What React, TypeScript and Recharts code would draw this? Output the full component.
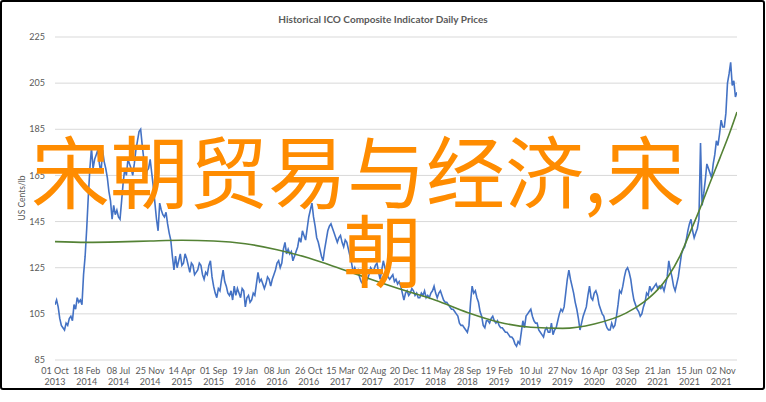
import React from 'react';
import { LineChart, Line, XAxis, YAxis, CartesianGrid } from 'recharts';

// Samples of the ICO composite indicator (US cents/lb).
// x = trading-day observation number; one sample every 5 observations (one week).
const SAMPLE_STEP_OBS = 5;
const weeklyPrices = [
  109, 111, 108, 103, 100, 99,
  98, 101, 100, 103, 104, 102, 109, 107, 112, 110, 111, 109, 122, 130, 142, 156, 168, 177, 168, 172, 174,
  176, 170, 166, 176, 171, 168, 164, 158, 154, 146, 152, 148, 150, 147, 146, 154, 162, 168, 165, 172, 170,
  168, 165, 170, 176, 180, 184, 185, 178, 172, 162, 167, 168, 172, 166, 160, 153, 146, 141, 153, 150, 148,
  147, 149, 144, 140, 137, 130, 124, 130, 125, 128, 131, 126, 127, 131, 129, 126, 123, 127, 126, 122, 123,
  124, 127, 126, 122, 120, 123, 122, 126, 128, 121, 117, 114, 112, 116, 115, 120, 124, 119, 117, 114, 113,
  115, 111, 117, 113, 116, 114, 112, 116, 115, 108, 112, 113, 110, 111, 114, 113, 118, 123, 119, 120, 118,
  116, 118, 121, 120, 117, 120, 122, 124, 127, 128, 125, 127, 133, 136, 131, 133, 131, 132, 128, 130, 132,
  134, 138, 136, 141, 139, 137, 142, 147, 150, 153, 147, 143, 138, 136, 133, 130, 128, 133, 137, 141, 143,
  144, 142, 140, 138, 136, 138, 139, 136, 134, 137, 136, 133, 130, 127, 123, 125, 123, 124, 121, 119, 118,
  117, 121, 120, 122, 125, 124, 124, 126, 127, 123, 120, 124, 128, 125, 123, 121, 120, 121, 122, 119, 120,
  118, 119, 117, 114, 111, 114, 115, 113, 114, 116, 115, 113, 114, 112, 112, 114, 113, 115, 112, 113, 112,
  114, 115, 117, 114, 112, 114, 115, 113, 111, 110, 110, 109, 108, 107, 107, 106, 105, 104, 101, 100, 100,
  99, 98, 97, 100, 110, 117, 114, 115, 112, 110, 106, 104, 100, 99, 102, 102, 101, 103, 104, 102, 101,
  102, 100, 99, 99, 98, 97, 97, 96, 95, 95, 94, 92, 91, 93, 92, 97, 102, 99, 104, 105, 106,
  107, 104, 102, 101, 101, 98, 97, 96, 95, 98, 99, 97, 97, 101, 96, 98, 99, 102, 105, 107, 106,
  108, 114, 120, 124, 120, 117, 114, 110, 107, 103, 98, 101, 104, 106, 108, 113, 117, 112, 111, 114, 115,
  113, 109, 107, 105, 104, 101, 99, 98, 98, 101, 99, 100, 104, 109, 115, 114, 117, 121, 124, 125, 123,
  120, 115, 111, 109, 107, 106, 104, 105, 108, 110, 114, 113, 117, 115, 116, 117, 118, 116, 117, 116, 117,
  115, 118, 121, 128, 124, 121, 117, 115, 118, 121, 126, 131, 133, 134, 137, 141, 144, 146, 141, 138, 140,
  142, 146, 179, 152, 157, 163, 170, 168, 166, 164, 170, 174, 180, 178, 183, 189, 186, 186, 192, 205, 209,
  214, 204, 206, 199, 201,
];

const trendObs = [0, 100, 200, 300, 400, 500, 600, 700, 800, 900, 1000, 1100, 1200, 1300, 1400, 1500, 1600, 1700, 1800, 1857, 1900, 1932, 1970, 2001, 2033, 2064, 2096, 2127, 2150];
const trendValues = [136.3, 136.0, 136.2, 136.6, 136.9, 136.6, 135.4, 132.8, 129.2, 124.6, 119.8, 115.2, 110.9, 105.6, 101.4, 99.2, 98.7, 100.6, 105.3, 110.2, 115.5, 121, 130, 140, 150.5, 161.5, 172.5, 183.5, 192.5];

// Category labels, one every 100 observations
const xTickObs = [0, 100, 200, 300, 400, 500, 600, 700, 800, 900, 1000, 1100, 1200, 1300, 1400, 1500, 1600, 1700, 1800, 1900, 2000, 2100];
const xTickDates = ['01 Oct', '18 Feb', '08 Jul', '25 Nov', '14 Apr', '01 Sep', '19 Jan', '08 Jun', '26 Oct', '15 Mar', '02 Aug', '20 Dec', '11 May', '28 Sep', '19 Feb', '10 Jul', '27 Nov', '16 Apr', '03 Sep', '21 Jan', '15 Jun', '02 Nov'];
const xTickYears = ['2013', '2014', '2014', '2014', '2015', '2015', '2016', '2016', '2016', '2017', '2017', '2017', '2018', '2018', '2019', '2019', '2019', '2020', '2020', '2021', '2021', '2021'];
const yTicks = [85, 105, 125, 145, 165, 185, 205, 225];

const TITLE = 'Historical ICO Composite Indicator Daily Prices';
const Y_TITLE = 'US Cents/lb';
const OVERLAY_LINE1 = '宋朝贸易与经济,宋';
const OVERLAY_LINE2 = '朝';

const priceData = weeklyPrices.map((v, i) => ({ obs: i * SAMPLE_STEP_OBS, price: v }));
const trendData = trendObs.map((o, i) => ({ obs: o, trend: trendValues[i] }));

const FONT = "Lato, 'Open Sans', sans-serif";
const GRAY = '#595959';

const DateTick = (props: any) => {
  const { x, y, payload } = props;
  const idx = xTickObs.indexOf(payload.value);
  return (
    <text x={x} y={y} textAnchor="middle" fill={GRAY} fontSize={9} fontFamily={FONT}>
      <tspan x={x} dy={14.3}>{xTickDates[idx]}</tspan>
      <tspan x={x} dy={10.2}>{xTickYears[idx]}</tspan>
    </text>
  );
};

export default function App() {
  return (
    <div style={{ position: 'absolute', left: 0, top: 0, width: 766, height: 402, background: '#fff', overflow: 'hidden' }}>
      <div style={{ position: 'absolute', left: 0, top: 0, width: 765, height: 390, border: '2px solid #000', boxSizing: 'border-box', borderRadius: 3 }} />
      <div style={{ position: 'absolute', left: 0, top: 0 }}>
        <LineChart width={766} height={402} margin={{ top: 37, right: 29, bottom: 12, left: 0 }}>
          <CartesianGrid horizontal vertical={false} stroke="#d9d9d9" strokeWidth={1} />
          <XAxis
            dataKey="obs"
            type="number"
            domain={[0, 2150]}
            ticks={xTickObs}
            interval={0}
            axisLine={false}
            tickLine={false}
            tickSize={0}
            tickMargin={0}
            height={30}
            tick={<DateTick />}
            allowDataOverflow
          />
          <YAxis
            type="number"
            domain={[85, 225]}
            ticks={yTicks}
            interval={0}
            axisLine={false}
            tickLine={false}
            tickSize={0}
            tickMargin={10}
            width={55}
            tick={{ fill: GRAY, fontSize: 9, fontFamily: FONT }}
          />
          <Line data={priceData} dataKey="price" type="linear" stroke="#4472C4" strokeWidth={1.6} dot={false} isAnimationActive={false} />
          <Line data={trendData} dataKey="trend" type="monotone" stroke="#548235" strokeWidth={1.6} dot={false} isAnimationActive={false} />
        </LineChart>
      </div>
      <div style={{ position: 'absolute', left: 0, top: 12, width: 766, textAlign: 'center', fontFamily: FONT, fontWeight: 700, fontSize: 10, color: GRAY, lineHeight: '14px' }}>
        {TITLE}
      </div>
      <div style={{ position: 'absolute', left: 22, top: 198, transform: 'translate(-50%, -50%) rotate(-90deg)', fontFamily: FONT, fontSize: 8.5, color: GRAY, whiteSpace: 'nowrap', lineHeight: '10px' }}>
        {Y_TITLE}
      </div>
      <div style={{ position: 'absolute', left: 31, top: 129, fontFamily: "'Noto Sans CJK SC', sans-serif", fontSize: 79, lineHeight: '79px', color: '#FF8C00', whiteSpace: 'nowrap' }}>
        {OVERLAY_LINE1}
      </div>
      <div style={{ position: 'absolute', left: 343, top: 208, fontFamily: "'Noto Sans CJK SC', sans-serif", fontSize: 79, lineHeight: '79px', color: '#FF8C00', whiteSpace: 'nowrap' }}>
        {OVERLAY_LINE2}
      </div>
    </div>
  );
}
